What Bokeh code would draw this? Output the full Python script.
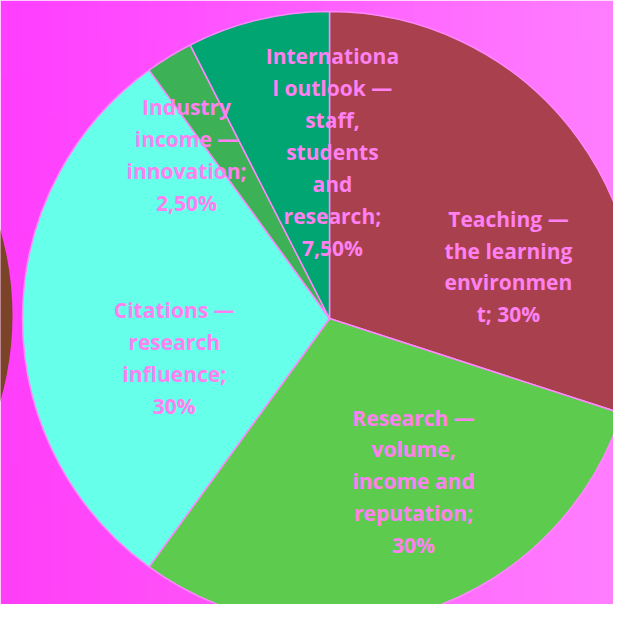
import numpy as np
from bokeh.plotting import figure
from bokeh.models import Range1d, ColumnDataSource
from bokeh.core.properties import value
from bokeh.embed import file_html
from bokeh.resources import INLINE

# ---- data ----
categories = [
    "Teaching — the learning environment",
    "Research — volume, income and reputation",
    "Citations — research influence",
    "Industry income — innovation",
    "International outlook — staff, students and research",
]
shares = [30.0, 30.0, 30.0, 2.5, 7.5]
labels = [
    "Teaching —\nthe learning\nenvironmen\nt; 30%",
    "Research —\nvolume,\nincome and\nreputation;\n30%",
    "Citations —\nresearch\ninfluence;\n30%",
    "Industry\nincome —\ninnovation;\n2,50%",
    "Internationa\nl outlook —\nstaff,\nstudents\nand\nresearch;\n7,50%",
]

# ---- style / layout ----
colors = ["#A8404E", "#5DCB4E", "#66FFE9", "#3CB155", "#00A571"]
label_r = [0.607, 0.597, 0.522, 0.707, 0.542]      # fraction of radius
label_deg = [16.2, -62.7, -165.7, 131.2, 89.0]    # label direction
W, H = 629, 620
CX, CY, R = 329, 620 - 318, 307

p = figure(width=613, height=604, output_backend="svg", toolbar_location=None,
           x_range=Range1d(0, 613), y_range=Range1d(16, 620),
           x_axis_location=None, y_axis_location=None, min_border=0)
p.grid.visible = False
p.outline_line_color = None

# background gradient
nx, ny = 64, 16
xs = np.linspace(0, 1, nx)[None, :]
ys = np.linspace(0, 1, ny)[:, None]
r_ch = np.full((ny, nx), 255.0)
g_ch = 62 + 66 * xs + 0 * ys
b_ch = 255 - 8 * (1 - ys) * (1 - xs)
img = np.empty((ny, nx), dtype=np.uint32)
view = img.view(dtype=np.uint8).reshape((ny, nx, 4))
view[:, :, 0] = r_ch.astype(np.uint8)
view[:, :, 1] = g_ch.astype(np.uint8)
view[:, :, 2] = b_ch.astype(np.uint8)
view[:, :, 3] = 255
p.image_rgba(image=[img], x=0, y=0, dw=W, dh=H)

# neighbouring brown shape at left
p.circle(x=[12 - R], y=[620 - 315], radius=R, radius_units="screen",
         fill_color="#7B4327", line_color=None)

fr = np.array(shares) / sum(shares)
cum = np.concatenate([[0], np.cumsum(fr)])
start = np.pi / 2 - cum[1:] * 2 * np.pi
end = np.pi / 2 - cum[:-1] * 2 * np.pi

src = ColumnDataSource(dict(cat=categories, start=start, end=end, color=colors))
p.wedge(x=CX, y=CY, radius=R, radius_units="screen", start_angle="start", end_angle="end",
        fill_color="color", line_color="#FF88FF", line_width=1.5, source=src)

lx = [CX + R * f * np.cos(np.radians(a)) for f, a in zip(label_r, label_deg)]
ly = [CY + R * f * np.sin(np.radians(a)) for f, a in zip(label_r, label_deg)]
lsrc = ColumnDataSource(dict(x=lx, y=ly, text=labels))
p.text(x="x", y="y", text="text", source=lsrc, text_align="center", text_baseline="middle",
       text_font=value("Open Sans"), text_font_style="bold", text_font_size="21px",
       text_color="#FF80F0", text_line_height=1.14)

open("out.html", "w").write(file_html(p, INLINE))
